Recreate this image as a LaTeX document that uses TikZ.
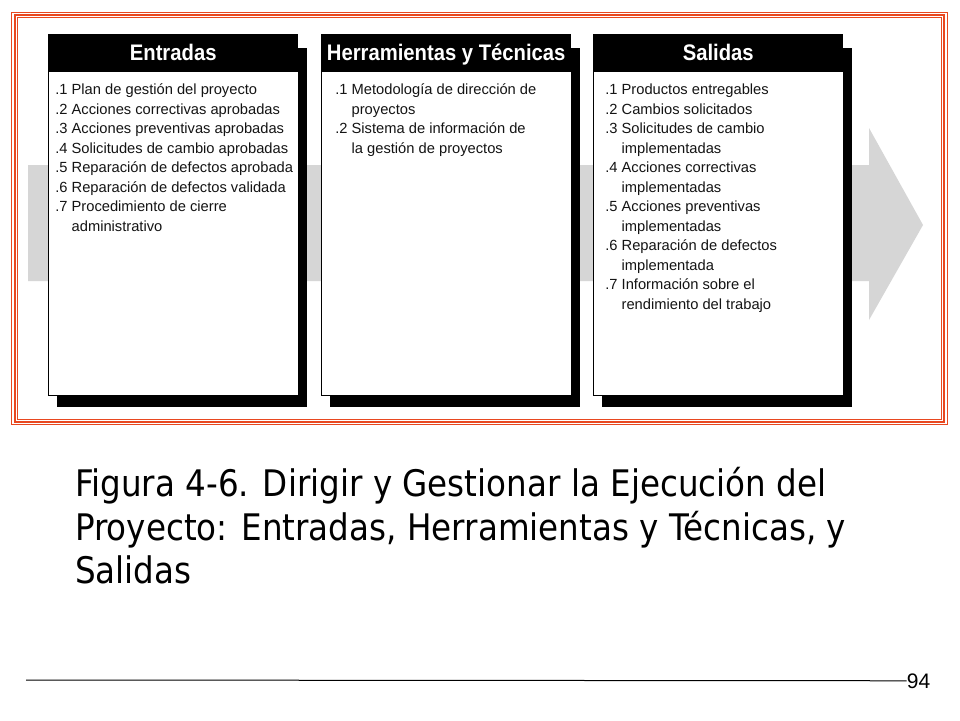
\documentclass[tikz,border=0pt]{standalone}
\usepackage{fontspec}
\setmainfont{Liberation Sans}
\newfontfamily\capfont[FakeStretch=0.89]{DejaVu Sans}
\newfontfamily\headfont[FakeStretch=0.9]{Liberation Sans}
\usetikzlibrary{matrix,positioning}
\usepackage{xcolor}
\newcommand{\boxw}{250pt}
\definecolor{framered}{RGB}{232,72,32}
\definecolor{bandgray}{RGB}{214,214,214}
\colorlet{itemgray}{black!92}
\tikzset{
    framesty/.style={draw=framered},
    bandsty/.style={fill=bandgray},
    shadsty/.style={fill=black},
    headsty/.style={fill=black, text=white, font=\headfont\fontsize{22.5}{22.5}\selectfont\bfseries, minimum width=\boxw, minimum height=37pt, text height=16pt, text depth=0pt, inner sep=0pt, anchor=north west},
    bodysty/.style={draw=black, fill=white, line width=1.2pt, minimum width=\boxw, minimum height=324pt, inner sep=0pt, anchor=north west},
    itemsty/.style={font=\fontsize{14.7}{19.5}\selectfont, text=itemgray, text height=13.5pt, text depth=6pt, inner sep=0pt, anchor=base west},
    liststy/.style={matrix of nodes, nodes={itemsty}, column sep=4pt, row sep=0pt, inner sep=0pt, anchor=north west, ampersand replacement=\&},
    capsty/.style={font=\capfont\fontsize{36.6}{43.3}\selectfont, inner sep=0pt, anchor=base west},
    pgsty/.style={font=\fontsize{21}{21}\selectfont, inner sep=0pt, anchor=base west},
}

\begin{document}
\begin{tikzpicture}[x=1pt, y=-1pt]
  \useasboundingbox (0,0) rectangle (960,720);
  \fill[white] (0,0) rectangle (960,720);

  % frame
  \draw[framesty, line width=1.3pt] (11.7,12.7) rectangle (947.3,424.3);
  \draw[framesty, line width=2pt] (14.7,15) rectangle (944.3,422);
  \draw[framesty, line width=1.1pt] (17.8,17.8) rectangle (941.5,419.5);

  % gray arrow
  \fill[bandsty] (28,165) -- (869,165) -- (869,128) -- (923,225) -- (869,320) -- (869,281) -- (28,281) -- cycle;

  \foreach \bx/\nm/\ttl in {48/E/Entradas, 321/H/{Herramientas y Técnicas}, 593/S/Salidas} {
    \fill[shadsty] (\bx+9,48) rectangle (\bx+259,407);
    \node[bodysty] (b\nm) at (\bx,71) {};
    \node[headsty] (h\nm) at (\bx,34) {\ttl};
  }

  \matrix (LE) [liststy] at (55,81)
  {
.1 \& Plan de gestión del proyecto \\
.2 \& Acciones correctivas aprobadas \\
.3 \& Acciones preventivas aprobadas \\
.4 \& Solicitudes de cambio aprobadas \\
.5 \& Reparación de defectos aprobada \\
.6 \& Reparación de defectos validada \\
.7 \& Procedimiento de cierre \\
   \& administrativo \\
  };

  \matrix (LH) [liststy] at (335,81)
  {
.1 \& Metodología de dirección de \\
   \& proyectos \\
.2 \& Sistema de información de \\
   \& la gestión de proyectos \\
  };

  \matrix (LS) [liststy] at (605,81)
  {
.1 \& Productos entregables \\
.2 \& Cambios solicitados \\
.3 \& Solicitudes de cambio \\
   \& implementadas \\
.4 \& Acciones correctivas \\
   \& implementadas \\
.5 \& Acciones preventivas \\
   \& implementadas \\
.6 \& Reparación de defectos \\
   \& implementada \\
.7 \& Información sobre el \\
   \& rendimiento del trabajo \\
  };

  % caption
  \node[capsty] (cap1) at (75,496.7) {Figura 4-6. Dirigir y Gestionar la Ejecución del};
  \node[capsty] (cap2) at (75,540) {Proyecto: Entradas, Herramientas y Técnicas, y};
  \node[capsty] (cap3) at (75,583.3) {Salidas};

  \node[pgsty] (pg) at (906.7,688) {94};
  \coordinate (rulestart) at (26,680);
  \draw[line width=1pt] (rulestart) -- (pg.west);
\end{tikzpicture}
\end{document}
